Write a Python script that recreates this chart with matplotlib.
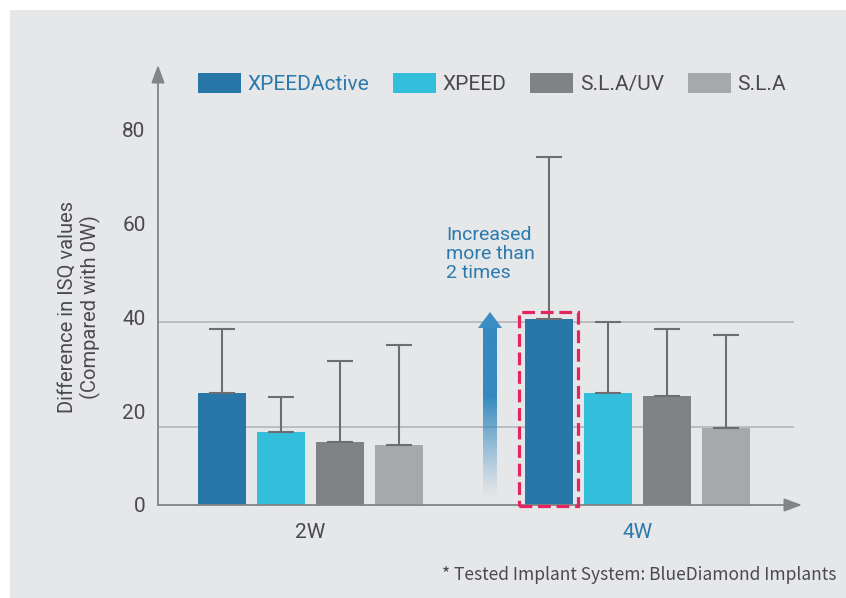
import matplotlib.pyplot as plt
import numpy as np
from matplotlib.patches import Rectangle, Polygon
from matplotlib.colors import to_rgb

# data
groups = ['2W', '4W']
series = ['XPEEDActive', 'XPEED', 'S.L.A/UV', 'S.L.A']
values = {
    'XPEEDActive': [23.9, 39.7],
    'XPEED': [15.6, 23.9],
    'S.L.A/UV': [13.4, 23.2],
    'S.L.A': [12.8, 16.4],
}
errors = {
    'XPEEDActive': [13.6, 34.5],
    'XPEED': [7.5, 15.1],
    'S.L.A/UV': [17.3, 14.3],
    'S.L.A': [21.3, 19.8],
}
ref_lines = [39.0, 16.6]
yticks = [0, 20, 40, 60, 80]

colors = ['#2877a8', '#33bfdc', '#818285', '#a7a8ab']
blue_txt = '#2a7aad'
dark = '#4a4a4c'
bg = '#e6e7e9'
axis_col = '#838487'

W, H = 846, 598
fig = plt.figure(figsize=(W / 100, H / 100), dpi=100)
fig.patch.set_facecolor('white')
fig.patches.append(Rectangle((10 / W, 0), 1, 1 - 10 / H, transform=fig.transFigure,
                             facecolor=bg, edgecolor='none', zorder=-10))

# axes: y axis at x=158px, x axis at y=505px
ax = fig.add_axes([158 / W, 1 - 505 / H, (802 - 158) / W, (505 - 65) / H])
ax.set_facecolor('none')
ax.set_zorder(2)
for s in ax.spines.values():
    s.set_visible(False)

x = np.arange(len(groups))
offsets = [-0.2706, -0.0902, 0.0902, 0.2706]
width = 0.1468

for y in ref_lines:
    ax.axhline(y, xmin=0, xmax=0.986, color='#b8b9bc', lw=1.3, zorder=1)

for i, name in enumerate(series):
    pos = x + offsets[i]
    ax.bar(pos, values[name], width, color=colors[i], label=name, zorder=2)
    ax.errorbar(pos, values[name], yerr=[np.zeros(len(groups)), errors[name]],
                fmt='none', ecolor='#6d6e71', elinewidth=1.5, capsize=9.5,
                capthick=1.5, zorder=3)

# axis arrows
arrow = dict(arrowstyle='-|>,head_length=0.54,head_width=0.2', color=axis_col,
             lw=1.3, mutation_scale=20, shrinkA=0, shrinkB=0)
ax.annotate('', xy=(0, 1), xytext=(0, 0), xycoords='axes fraction', arrowprops=arrow)
ax.annotate('', xy=(1, 0), xytext=(0, 0), xycoords='axes fraction', arrowprops=arrow)

ax.set_yticks(yticks)
ax.set_yticklabels([str(t) for t in yticks])
ax.tick_params(axis='y', length=0, pad=9, labelsize=15, labelcolor=dark)
for lab in ax.get_yticklabels():
    lab.set_fontfamily('Roboto')
ax.set_xticks(x)
ax.set_xticklabels(groups)
ax.tick_params(axis='x', length=0, pad=13, labelsize=15)
for lab, c in zip(ax.get_xticklabels(), [dark, blue_txt]):
    lab.set_fontfamily('Roboto')
    lab.set_color(c)

fig.text(79 / W, 1 - 307 / H, 'Difference in ISQ values\n(Compared with 0W)',
         rotation=90, ha='center', va='center', multialignment='center',
         fontsize=14.5, color=dark, family='Roboto', linespacing=1.2)

# dashed highlight around 4W XPEEDActive
ax.add_patch(Rectangle((0.6376, -0.2), 0.1804, 41.35, fill=False, edgecolor='#e5265e',
                       lw=2.3, linestyle=(0, (4, 1.8)), zorder=4, clip_on=False))

# gradient arrow
arr_rgb = to_rgb('#3389c0')
ys = np.linspace(0, 1, 200)
alpha = np.clip(ys / 0.6, 0, 1) ** 1.2
grad = np.zeros((200, 1, 4))
grad[:, 0, :3] = arr_rgb
grad[:, 0, 3] = alpha
ax.imshow(grad, extent=[0.5275, 0.5673, 1.1, 37.8], origin='lower', aspect='auto',
          zorder=2, interpolation='bilinear')
ax.add_patch(Polygon([[0.5122, 37.74], [0.5856, 37.74], [0.5489, 41.15]],
                     closed=True, facecolor='#3a8ec4', edgecolor='none', zorder=2))
ax.set_xlim(-0.4664, 1.503)
ax.set_ylim(0, 93.8)

ax.text(0.4144, 59.5, 'Increased\nmore than\n2 times', ha='left', va='top',
        fontsize=14, color=blue_txt, family='Roboto', linespacing=1.08)

leg = ax.legend(ncol=4, frameon=False, loc='upper left',
                bbox_to_anchor=(198 / W, 1 - 73 / H), bbox_transform=fig.transFigure,
                prop={'family': 'Roboto', 'size': 15}, borderpad=0, borderaxespad=0,
                handlelength=2.07, handleheight=1.1, handletextpad=0.3,
                columnspacing=1.15)
for t, c in zip(leg.get_texts(), [blue_txt, dark, dark, dark]):
    t.set_color(c)

fig.text(836 / W, 1 - 575 / H, '* Tested Implant System: BlueDiamond Implants',
         ha='right', va='center', fontsize=12.5, color=dark, family='Noto Sans CJK KR')

fig.savefig('out.png', dpi=100, facecolor=fig.get_facecolor())
